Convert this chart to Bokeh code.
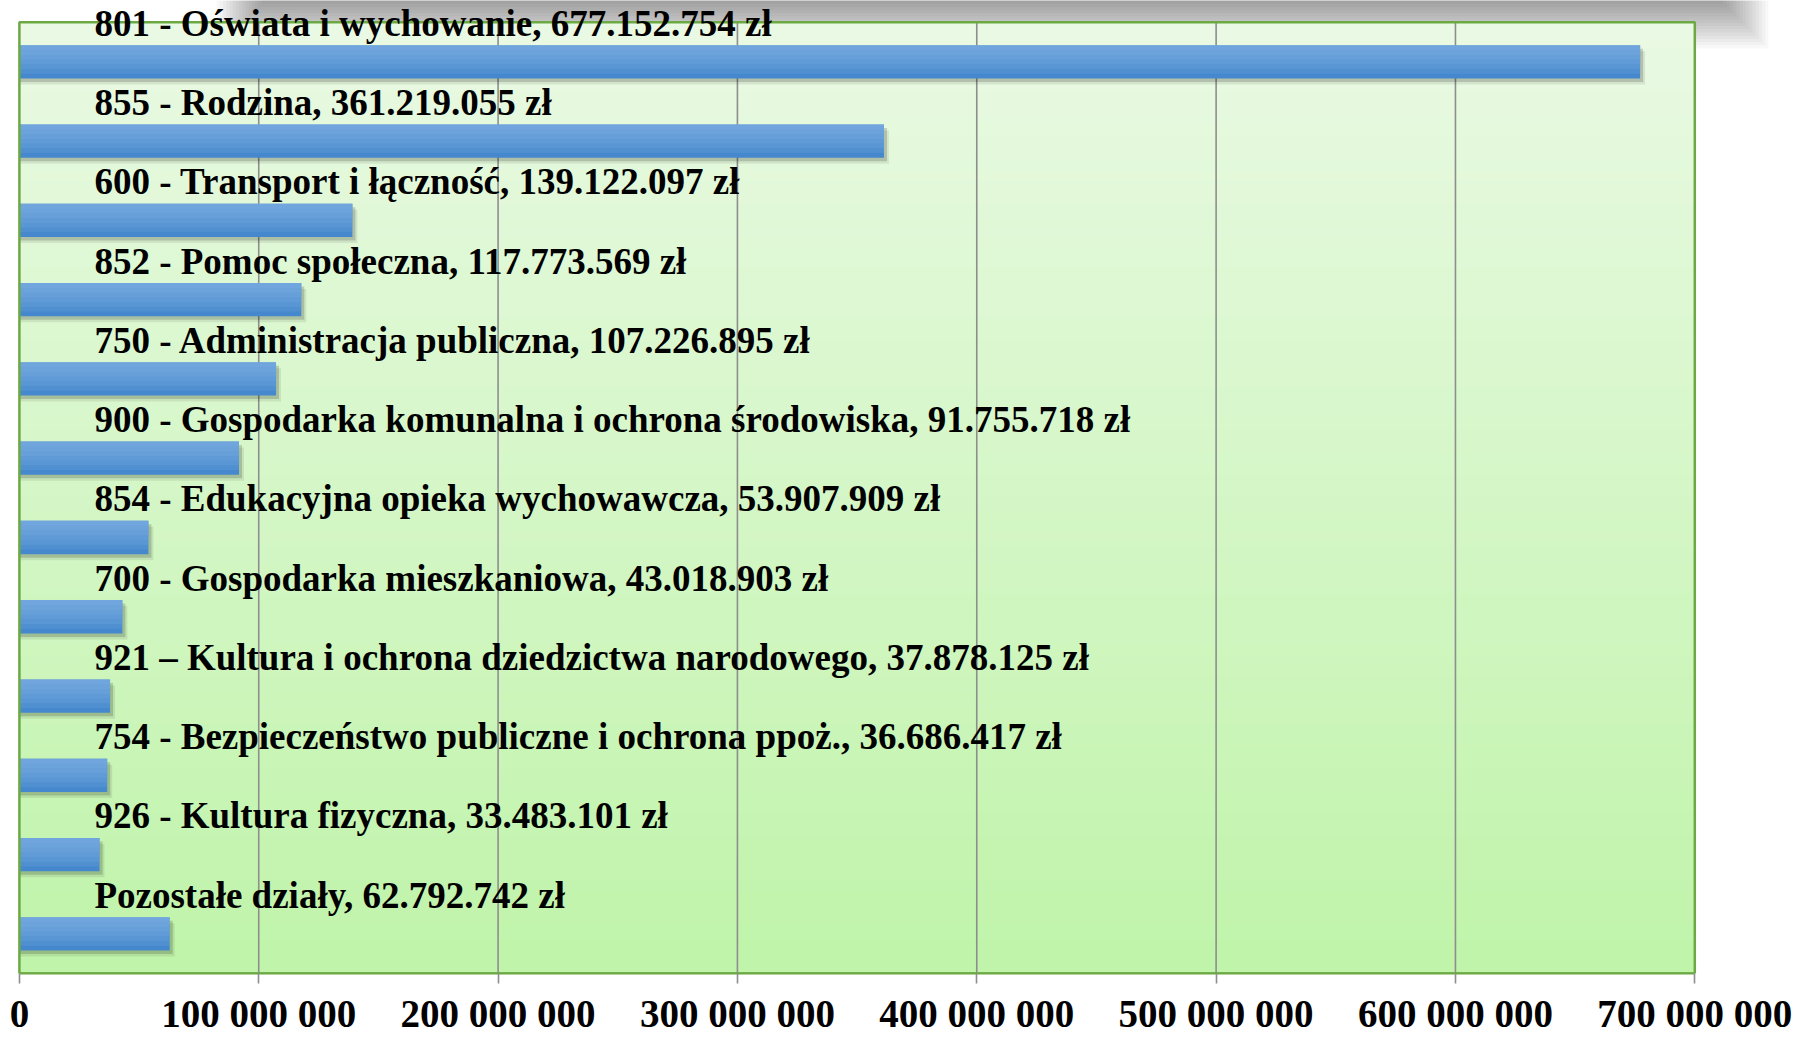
import numpy as np
from bokeh.plotting import figure
from bokeh.models import ColumnDataSource, FixedTicker, BoxAnnotation, Range1d
from bokeh.core.properties import value
from bokeh.embed import file_html
from bokeh.resources import INLINE

# ---------------- data ----------------
categories = [
    "801 - Oświata i wychowanie",
    "855 - Rodzina",
    "600 - Transport i łączność",
    "852 - Pomoc społeczna",
    "750 - Administracja publiczna",
    "900 - Gospodarka komunalna i ochrona środowiska",
    "854 - Edukacyjna opieka wychowawcza",
    "700 - Gospodarka mieszkaniowa",
    "921 – Kultura i ochrona dziedzictwa narodowego",
    "754 - Bezpieczeństwo publiczne i ochrona ppoż.",
    "926 - Kultura fizyczna",
    "Pozostałe działy",
]
amounts = [677152754, 361219055, 139122097, 117773569, 107226895, 91755718,
           53907909, 43018903, 37878125, 36686417, 33483101, 62792742]
amount_labels = ["677.152.754 zł", "361.219.055 zł", "139.122.097 zł", "117.773.569 zł",
                 "107.226.895 zł", "91.755.718 zł", "53.907.909 zł", "43.018.903 zł",
                 "37.878.125 zł", "36.686.417 zł", "33.483.101 zł", "62.792.742 zł"]
tick_values = [0, 100000000, 200000000, 300000000, 400000000, 500000000, 600000000, 700000000]
tick_labels = ["0", "100 000 000", "200 000 000", "300 000 000", "400 000 000",
               "500 000 000", "600 000 000", "700 000 000"]

# ---------------- layout ----------------
W, H = 1809, 1039
FX0, FX1 = 18.9, 1694.3          # plot-area left/right in canvas px
FY_TOP, FY_BOT = 21.7, 972.7     # plot-area top/bottom in canvas px
BOTTOM = H - FY_BOT
FRAME_H = FY_BOT
n = len(categories)
XMAX = tick_values[-1]
xpp = XMAX / (FX1 - FX0)
ypp = n / (FRAME_H - FY_TOP)
x_start = -FX0 * xpp
x_end = XMAX + (W - FX1) * xpp
y_end = n + FY_TOP * ypp


def xd(fx):
    return x_start + fx * xpp


def yd(fy):
    return y_end - fy * ypp


p = figure(width=W, height=H, x_range=Range1d(x_start, x_end), y_range=Range1d(0, y_end),
           output_backend="svg", toolbar_location=None, y_axis_location=None,
           min_border_left=0, min_border_right=0, min_border_top=0,
           min_border_bottom=int(round(BOTTOM)),
           outline_line_color=None, background_fill_color="white", border_fill_color="white")
p.xgrid.visible = False
p.ygrid.visible = False

# soft grey shadow of a shape above the chart
NL = 16
for k in range(NL):
    s = -24 + 48 * k / (NL - 1)
    p.add_layout(BoxAnnotation(left=xd(240 - s), right=xd(1744 + s), top=y_end + 1,
                               bottom=yd(24 + s), fill_color="black", fill_alpha=0.028,
                               line_color=None, level="underlay"))

# plot area gradient background
rows = 256
top_c = np.array([234, 250, 228])
bot_c = np.array([192, 244, 170])
img = np.empty((rows, 1), dtype=np.uint32)
view = img.view(dtype=np.uint8).reshape((rows, 1, 4))
for r in range(rows):
    t = r / (rows - 1)
    c = bot_c * (1 - t) + top_c * t
    view[r, 0, 0:3] = c.astype(np.uint8)
    view[r, 0, 3] = 255
p.image_rgba(image=[img], x=0, y=0, dw=XMAX, dh=n)

# vertical gridlines
grid_x = tick_values[1:-1]
p.segment(x0=grid_x, x1=grid_x, y0=[0] * len(grid_x), y1=[n] * len(grid_x),
          line_color="#8E8E8E", line_width=1.6)

# bars
yc = [n - 0.5 - i for i in range(n)]
bh = 0.42
src = ColumnDataSource(dict(y=yc, right=amounts,
                            label=[f"{c}, {a}" for c, a in zip(categories, amount_labels)],
                            ly=[n - i for i in range(n)]))

# bar shadows
p.hbar(y=[v - 6 * ypp for v in yc], left=0, right=[a + 5 * xpp for a in amounts], height=bh,
       fill_color="black", fill_alpha=0.08, line_color=None)
p.hbar(y=[v - 3.5 * ypp for v in yc], left=0, right=[a + 3 * xpp for a in amounts], height=bh,
       fill_color="black", fill_alpha=0.16, line_color=None)

p.hbar(y="y", left=0, right="right", height=bh, source=src,
       fill_color="#4588CD", line_color=None)
for k in range(6):
    hk = bh * (k + 1) / 7
    p.hbar(y=[v + bh / 2 - hk / 2 for v in yc], left=0, right=amounts, height=hk,
           fill_color="#86B8E6", fill_alpha=0.17, line_color=None)

# plot area border
p.quad(left=[0], right=[XMAX], bottom=[0], top=[n], fill_color=None,
       line_color="#6CA843", line_width=2.5)

# data labels
p.text(x=0, y="ly", text="label", source=src, x_offset=75, y_offset=1,
       text_font=value("Liberation Serif"), text_font_style="bold", text_font_size="37px",
       text_color="black", text_baseline="middle", text_align="left")

# x axis
ax = p.xaxis[0]
ax.ticker = FixedTicker(ticks=tick_values)
ax.major_label_overrides = {v: l for v, l in zip(tick_values, tick_labels)}
ax.bounds = (0, XMAX)
ax.axis_line_color = "#6CA843"
ax.axis_line_width = 2
ax.major_tick_line_color = "#8E8E8E"
ax.major_tick_line_width = 1.6
ax.major_tick_out = 10
ax.major_tick_in = 0
ax.minor_tick_line_color = None
ax.major_label_standoff = 8
ax.major_label_text_font = "Liberation Serif"
ax.major_label_text_font_style = "bold"
ax.major_label_text_font_size = "39px"
ax.major_label_text_color = "black"

open("out.html", "w").write(file_html(p, INLINE))
